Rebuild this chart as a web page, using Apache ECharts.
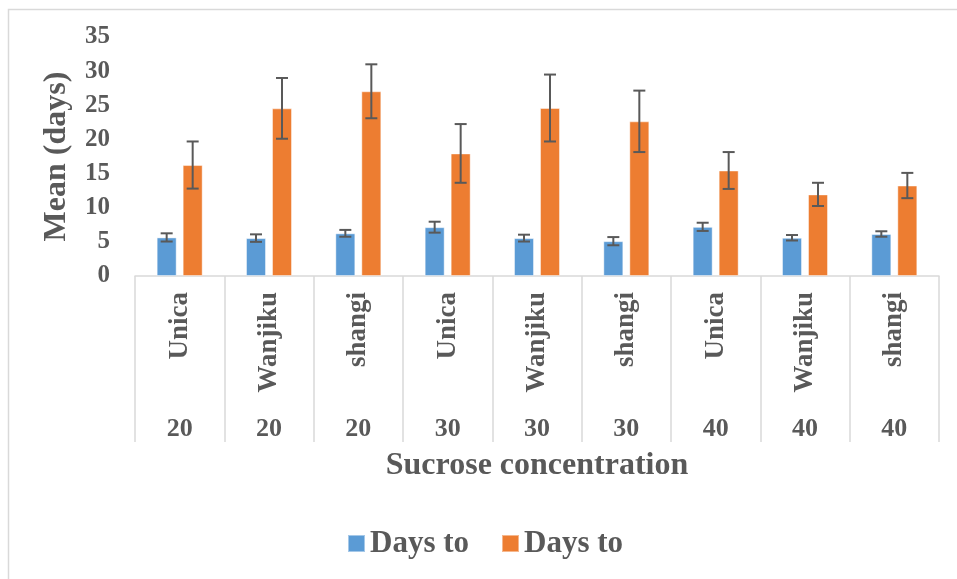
<!DOCTYPE html>
<html>
<head>
<meta charset="utf-8">
<script src="https://cdn.jsdelivr.net/npm/echarts@6/dist/echarts.min.js"></script>
<style>html,body{margin:0;padding:0;background:#fff;}#chart{width:957px;height:579px;}</style>
</head>
<body>
<div id="chart"></div>
<script>
// ---- data ----
const varieties = ['Unica', 'Wanjiku', 'shangi', 'Unica', 'Wanjiku', 'shangi', 'Unica', 'Wanjiku', 'shangi'];
const concentrations = ['20', '20', '20', '30', '30', '30', '40', '40', '40'];
const seriesNames = ['Days to', 'Days to '];
const blueMeans = [5.65, 5.55, 6.25, 7.15, 5.55, 5.1, 7.2, 5.6, 6.15];
const blueErrors = [0.6, 0.55, 0.5, 0.8, 0.5, 0.6, 0.6, 0.4, 0.4];
const orangeMeans = [16.25, 24.55, 27.05, 17.95, 24.6, 22.65, 15.45, 11.95, 13.25];
const orangeErrors = [3.45, 4.45, 3.95, 4.3, 4.9, 4.5, 2.7, 1.7, 1.85];
const yTicks = { min: 0, max: 35, interval: 5 };

// ---- chart ----
const BAR_W = 20, BAR_GAP = 6;
const font = '"Liberation Serif", "Times New Roman", serif';
const textColor = '#595959';
const lineColor = '#d9d9d9';

function errorSeries(means, errs, side) {
  return {
    type: 'custom',
    xAxisIndex: 0,
    silent: true,
    z: 5,
    data: means.map((m, i) => [i, m, errs[i]]),
    renderItem: function (params, api) {
      const i = api.value(0), m = api.value(1), e = api.value(2);
      const off = side * (BAR_W + BAR_GAP) / 2;
      const top = api.coord([i, m + e]);
      const bot = api.coord([i, m - e]);
      const x = top[0] + off;
      const cap = 6;
      const style = { stroke: textColor, lineWidth: 2 };
      return {
        type: 'group',
        children: [
          { type: 'line', shape: { x1: x, y1: top[1], x2: x, y2: bot[1] }, style: style },
          { type: 'line', shape: { x1: x - cap, y1: top[1], x2: x + cap, y2: top[1] }, style: style },
          { type: 'line', shape: { x1: x - cap, y1: bot[1], x2: x + cap, y2: bot[1] }, style: style }
        ]
      };
    }
  };
}

const chart = echarts.init(document.getElementById('chart'));
chart.setOption({
  animation: false,
  backgroundColor: '#fff',
  graphic: [{
    type: 'rect', left: 6, top: 7, z: -10,
    shape: { width: 960, height: 580 },
    style: { fill: 'none', stroke: lineColor, lineWidth: 1.5 }
  }],
  grid: { left: 135, right: 18, top: 37, bottom: 303, containLabel: false },
  legend: {
    top: 523,
    left: 342,
    itemWidth: 17,
    itemHeight: 17,
    itemGap: 32,
    icon: 'rect',
    formatter: n => n.trim(),
    textStyle: { fontFamily: font, fontWeight: 'bold', fontSize: 31, color: textColor },
    data: seriesNames
  },
  xAxis: [{
    type: 'category',
    data: varieties,
    position: 'bottom',
    name: 'Sucrose concentration',
    nameLocation: 'middle',
    nameGap: 174,
    nameTextStyle: { fontFamily: font, fontWeight: 'bold', fontSize: 32, color: textColor },
    axisLine: { show: true, lineStyle: { color: lineColor, width: 1.5 } },
    axisTick: { show: true, length: 166, lineStyle: { color: lineColor, width: 1.5 } },
    axisLabel: { rotate: 90, margin: 16, fontFamily: font, fontWeight: 'bold', fontSize: 27, color: textColor }
  }, {
    type: 'category',
    data: concentrations,
    position: 'bottom',
    axisLine: { show: false },
    axisTick: { show: false },
    axisLabel: { margin: 140, fontFamily: font, fontWeight: 'bold', fontSize: 26, color: textColor, interval: 0 }
  }],
  yAxis: {
    type: 'value',
    min: yTicks.min, max: yTicks.max, interval: yTicks.interval,
    name: 'Mean (days)',
    nameLocation: 'middle',
    nameGap: 62,
    nameTextStyle: { fontFamily: font, fontWeight: 'bold', fontSize: 32, color: textColor },
    axisLine: { show: false },
    axisTick: { show: false },
    splitLine: { show: false },
    axisLabel: { margin: 25, fontFamily: font, fontWeight: 'bold', fontSize: 25, color: textColor }
  },
  series: [{
    name: seriesNames[0],
    type: 'bar',
    xAxisIndex: 0,
    barWidth: BAR_W,
    barGap: (BAR_GAP / BAR_W * 100) + '%',
    data: blueMeans,
    itemStyle: { color: '#5b9bd5', borderColor: 'rgba(255,255,255,0.45)', borderWidth: 1 }
  }, {
    name: seriesNames[1],
    type: 'bar',
    xAxisIndex: 0,
    barWidth: BAR_W,
    barGap: (BAR_GAP / BAR_W * 100) + '%',
    data: orangeMeans,
    itemStyle: { color: '#ed7d31', borderColor: 'rgba(255,255,255,0.45)', borderWidth: 1 }
  },
  errorSeries(blueMeans, blueErrors, -1),
  errorSeries(orangeMeans, orangeErrors, 1)
  ]
});
</script>
</body>
</html>
